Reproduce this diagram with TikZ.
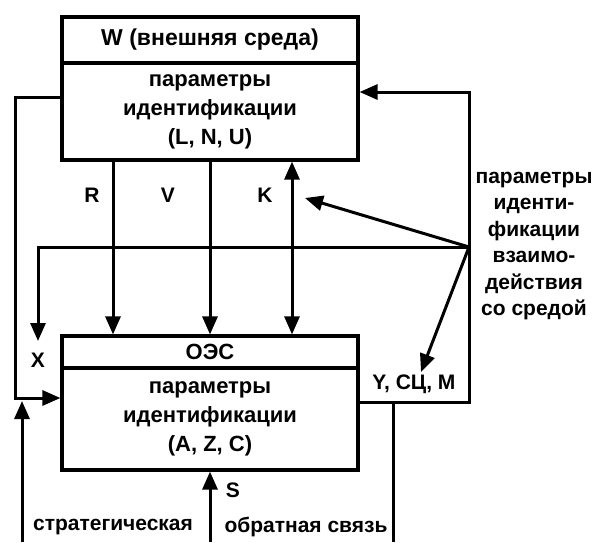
\documentclass[tikz,border=0pt]{standalone}
\usepackage{fontspec}
\setmainfont{Liberation Sans}
\usetikzlibrary{arrows.meta}
\newcommand{\fs}{\fontsize{21}{29}\selectfont\bfseries}
\newcommand{\fb}{\fontsize{22}{29}\selectfont\bfseries}
\begin{document}
\begin{tikzpicture}[x=1pt,y=-1pt,
  box/.style={draw, line width=3.2pt, minimum width=296pt, inner sep=0pt, font=\fb, align=center},
  conn/.style={line width=3pt},
  arr/.style={conn, -{Triangle[length=18pt,width=15pt]}},
  darr/.style={conn, {Triangle[length=18pt,width=15pt]}-{Triangle[length=18pt,width=15pt]}},
  lbl/.style={font=\fs, inner sep=0pt, align=center}]
\fill[white] (0,0) rectangle (598,542);
\useasboundingbox (0,0) rectangle (598,542);

% boxes
\node[box, minimum height=46pt, font=\fontsize{23}{29}\selectfont\bfseries] (Whead) at (210,40) {W (внешняя среда)};
\node[box, minimum height=97pt] (Wbody) at (210,111.5) {параметры\\идентификации\\(L, N, U)};
\node[box, minimum height=32pt] (Ohead) at (210,352) {ОЭС};
\node[box, minimum height=102pt] (Obody) at (210,419) {параметры\\идентификации\\(A, Z, C)};

% labels
\node[lbl] (lR) at (92,195) {R};
\node[lbl] (lV) at (168,195) {V};
\node[lbl] (lK) at (265,195) {K};
\node[lbl] (lX) at (38,360) {X};
\node[lbl] (lS) at (233,490) {S};
\node[lbl] (lY) at (414,384) {Y, СЦ, M};
\node[lbl, font=\fontsize{21}{26.5}\selectfont\bfseries] (lP) at (534,246) {параметры\\иденти-\\фикации\\взаимо-\\действия\\со средой};
\node[lbl] (lSt) at (113,527) {стратегическая};
\node[lbl] (lFb) at (306,527) {обратная связь};

% coordinates
\coordinate (cR) at (113,0);
\coordinate (cK) at (292,0);
\coordinate (hub) at (469,247);
\coordinate (xc) at (38,247);
\coordinate (xt) at (38,341);
\coordinate (Kt) at (305,198);
\coordinate (Yt) at (421,372);
\coordinate (cL) at (15,97);
\coordinate (jL) at (15,398);
\coordinate (rb) at (469,402);
\coordinate (rt) at (469,92);
\coordinate (fbt) at (393,402);
\coordinate (fbb) at (393,542);
\coordinate (sb) at (210,542);
\coordinate (sg) at (22,542);
\coordinate (sgt) at (22,401);

% connectors
\draw[arr] (cR |- Wbody.south) -- (cR |- Ohead.north);
\draw[arr] (Wbody.south) -- (Ohead.north);
\draw[darr] (cK |- Wbody.south) -- (cK |- Ohead.north);
\draw[arr] (Wbody.west |- cL) -- (cL) -- (jL) -- (Obody.west |- jL);
\draw[arr] (hub) -- (xc) -- (xt);
\draw[arr] (hub) -- (Kt);
\draw[arr] (hub) -- (Yt);
\draw[arr] (Obody.east |- rb) -- (rb) -- (rt) -- (Wbody.east |- rt);
\draw[conn] (fbt) -- (fbb);
\draw[arr] (sb) -- (Obody.south);
\draw[arr] (sg) -- (sgt);
\end{tikzpicture}
\end{document}
